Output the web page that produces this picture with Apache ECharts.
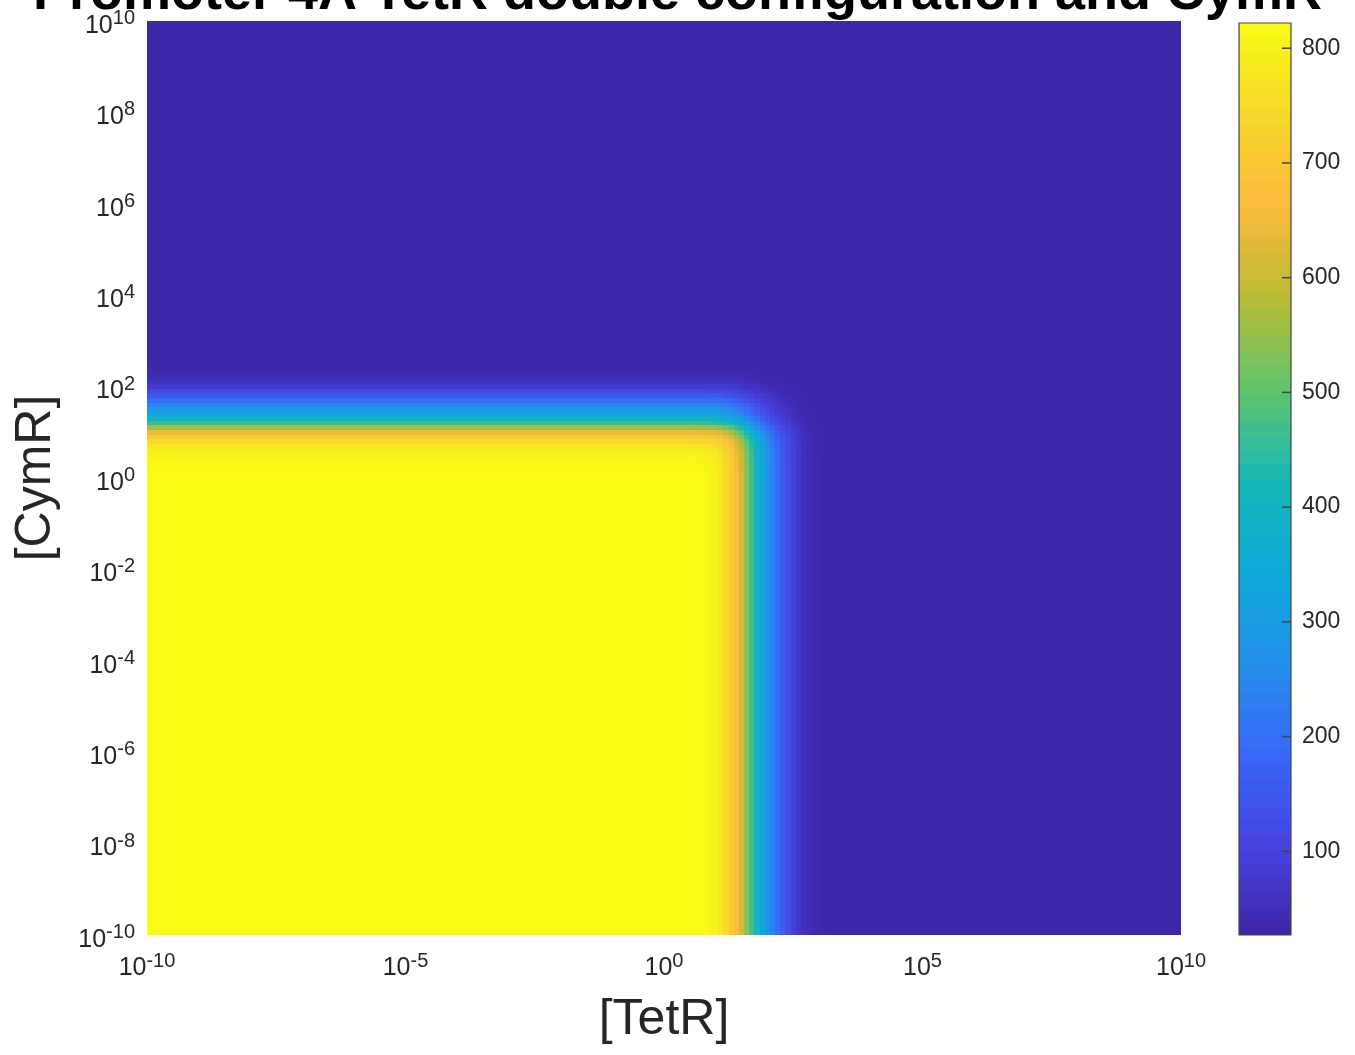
<!DOCTYPE html>
<html><head><meta charset="utf-8">
<script src="https://cdn.jsdelivr.net/npm/echarts@6/dist/echarts.min.js"></script>
<style>html,body{margin:0;padding:0;background:#fff}#c{width:1355px;height:1055px}</style>
</head><body><div id="c"></div>
<script>
// ---------------- data ----------------
const titleText = 'Promoter 4A TetR double configuration and CymR';
const xAxisName = '[TetR]';
const yAxisName = '[CymR]';
const xTickExponents = [-10, -5, 0, 5, 10];
const yTickExponents = [-10, -8, -6, -4, -2, 0, 2, 4, 6, 8, 10];
const colorbarTicks = [100, 200, 300, 400, 500, 600, 700, 800];
const valueMin = 27;     // colour scale limits
const valueMax = 822;
const logStep = 0.1;     // grid spacing of the map (decades)
const logMin = -10, logMax = 10;
// promoter output along [TetR] at low [CymR] (read every 0.1 decade from 10^0.5)
const tetrProfileStart = 0.5;
const tetrProfile = [822, 821, 819, 815, 809, 800, 782, 752, 712, 665, 610, 542, 470, 400, 335,
  285, 238, 195, 158, 128, 100, 78, 60, 48, 40, 34, 31, 29, 28, 27];
// promoter output along [CymR] at low [TetR] (read every 0.1 decade from 10^0)
const cymrProfileStart = 0.0;
const cymrProfile = [822, 820, 818, 815, 811, 805, 795, 778, 750, 705, 650, 560, 460, 385, 330,
  290, 245, 198, 152, 115, 84, 62, 47, 38, 32, 29, 27];
// parula colour map stops (evenly spaced)
const parula = ['#3E26A8', '#4543E0', '#3868F7', '#2290EA', '#0FAADA', '#17B8B4',
  '#62C36C', '#BBBC35', '#FBBA3D', '#F5D82A', '#F9FB15'];
const colorbarLevels = 64;

// ---------------- build ----------------
function profileAt(profile, start, e) {
  let i = Math.round((e - start) / logStep);
  if (i < 0) i = 0;
  if (i > profile.length - 1) i = profile.length - 1;
  return profile[i];
}
const nCells = Math.round((logMax - logMin) / logStep) + 1;
const mapData = [];
for (let iy = 0; iy < nCells; iy++) {
  const ey = +(logMin + iy * logStep).toFixed(2);
  const fy = (profileAt(cymrProfile, cymrProfileStart, ey) - valueMin) / (valueMax - valueMin);
  for (let ix = 0; ix < nCells; ix++) {
    const ex = +(logMin + ix * logStep).toFixed(2);
    const vx = profileAt(tetrProfile, tetrProfileStart, ex);
    mapData.push([ex, ey, valueMin + (vx - valueMin) * fy]);
  }
}
const barData = [];
const dv = (valueMax - valueMin) / colorbarLevels;
for (let i = 0; i < colorbarLevels; i++) {
  const lo = valueMin + i * dv;
  barData.push([lo, lo + dv, lo + dv / 2]);
}

const FONT = '"Liberation Sans", Arial, Helvetica, sans-serif';
const TXT = '#262626';
function expLabel(v) { return '{b|10}{s|' + v + '}'; }
const richExp = {
  b: { fontSize: 25, fontFamily: FONT, color: TXT, lineHeight: 25, padding: [10, 0, 0, 0] },
  s: { fontSize: 20, fontFamily: FONT, color: TXT, lineHeight: 24, verticalAlign: 'top' }
};

const chart = echarts.init(document.getElementById('c'), null, { renderer: 'canvas' });
const half = logStep / 2;
chart.setOption({
  animation: false,
  backgroundColor: '#ffffff',
  title: {
    text: titleText, left: 'center', top: -38,
    textStyle: { fontSize: 54, fontWeight: 'bold', color: '#000', fontFamily: FONT }
  },
  grid: [
    { left: 147, top: 21, width: 1034, height: 914 },
    { left: 1239, top: 23, width: 52, height: 912 }
  ],
  xAxis: [
    {
      gridIndex: 0, type: 'value', min: logMin, max: logMax, interval: 5,
      axisLine: { show: false }, axisTick: { show: false }, splitLine: { show: false },
      axisLabel: { margin: 16, formatter: expLabel, rich: richExp },
      name: xAxisName, nameLocation: 'middle', nameGap: 60,
      nameTextStyle: { fontSize: 50, fontFamily: FONT, color: TXT }
    },
    { gridIndex: 1, type: 'value', min: 0, max: 1, show: false }
  ],
  yAxis: [
    {
      gridIndex: 0, type: 'value', min: logMin, max: logMax, interval: 2,
      axisLine: { show: false }, axisTick: { show: false }, splitLine: { show: false },
      axisLabel: { margin: 12, formatter: expLabel, rich: richExp },
      name: yAxisName, nameLocation: 'middle', nameGap: 86,
      nameTextStyle: { fontSize: 50, fontFamily: FONT, color: TXT }
    },
    {
      gridIndex: 1, type: 'value', min: valueMin, max: valueMax, position: 'right',
      axisLine: { show: false }, splitLine: { show: false }, axisTick: { show: false },
      axisLabel: { margin: 11, customValues: colorbarTicks, fontSize: 23, fontFamily: FONT, color: TXT }
    }
  ],
  visualMap: {
    type: 'continuous', show: false, min: valueMin, max: valueMax, dimension: 2,
    seriesIndex: [0, 1], inRange: { color: parula }
  },
  series: [
    {
      type: 'custom', xAxisIndex: 0, yAxisIndex: 0, progressive: 0, silent: true,
      data: mapData,
      renderItem: function (params, api) {
        const x = api.value(0), y = api.value(1);
        const p0 = api.coord([x - half, y + half]);
        const p1 = api.coord([x + half, y - half]);
        const cs = params.coordSys;
        const x0 = Math.round(Math.max(p0[0], cs.x)), x1 = Math.round(Math.min(p1[0], cs.x + cs.width));
        const y0 = Math.round(Math.max(p0[1], cs.y)), y1 = Math.round(Math.min(p1[1], cs.y + cs.height));
        if (x1 <= x0 || y1 <= y0) return null;
        return { type: 'rect', shape: { x: x0, y: y0, width: x1 - x0, height: y1 - y0 },
          style: { fill: api.visual('color') } };
      }
    },
    {
      type: 'custom', xAxisIndex: 1, yAxisIndex: 1, progressive: 0, silent: true,
      data: barData,
      renderItem: function (params, api) {
        const p0 = api.coord([0, api.value(1)]);
        const p1 = api.coord([1, api.value(0)]);
        const y0 = Math.round(p0[1]), y1 = Math.round(p1[1]);
        return { type: 'rect', shape: { x: p0[0], y: y0, width: p1[0] - p0[0], height: y1 - y0 },
          style: { fill: api.visual('color') } };
      }
    },
    {
      type: 'custom', xAxisIndex: 1, yAxisIndex: 1, silent: true, z: 5,
      data: [[valueMin, valueMax]],
      renderItem: function (params, api) {
        const p0 = api.coord([0, api.value(1)]);
        const p1 = api.coord([1, api.value(0)]);
        return { type: 'rect', shape: { x: p0[0], y: p0[1], width: p1[0] - p0[0], height: p1[1] - p0[1] },
          style: { fill: 'none', stroke: '#444', lineWidth: 1.2 } };
      }
    },
    {
      type: 'custom', xAxisIndex: 1, yAxisIndex: 1, silent: true, z: 6,
      data: colorbarTicks.map(function (v) { return [v]; }),
      renderItem: function (params, api) {
        const p = api.coord([1, api.value(0)]);
        return { type: 'line', shape: { x1: p[0] - 9, y1: p[1], x2: p[0], y2: p[1] },
          style: { stroke: '#444', lineWidth: 1.5 } };
      }
    }
  ]
});
</script></body></html>
